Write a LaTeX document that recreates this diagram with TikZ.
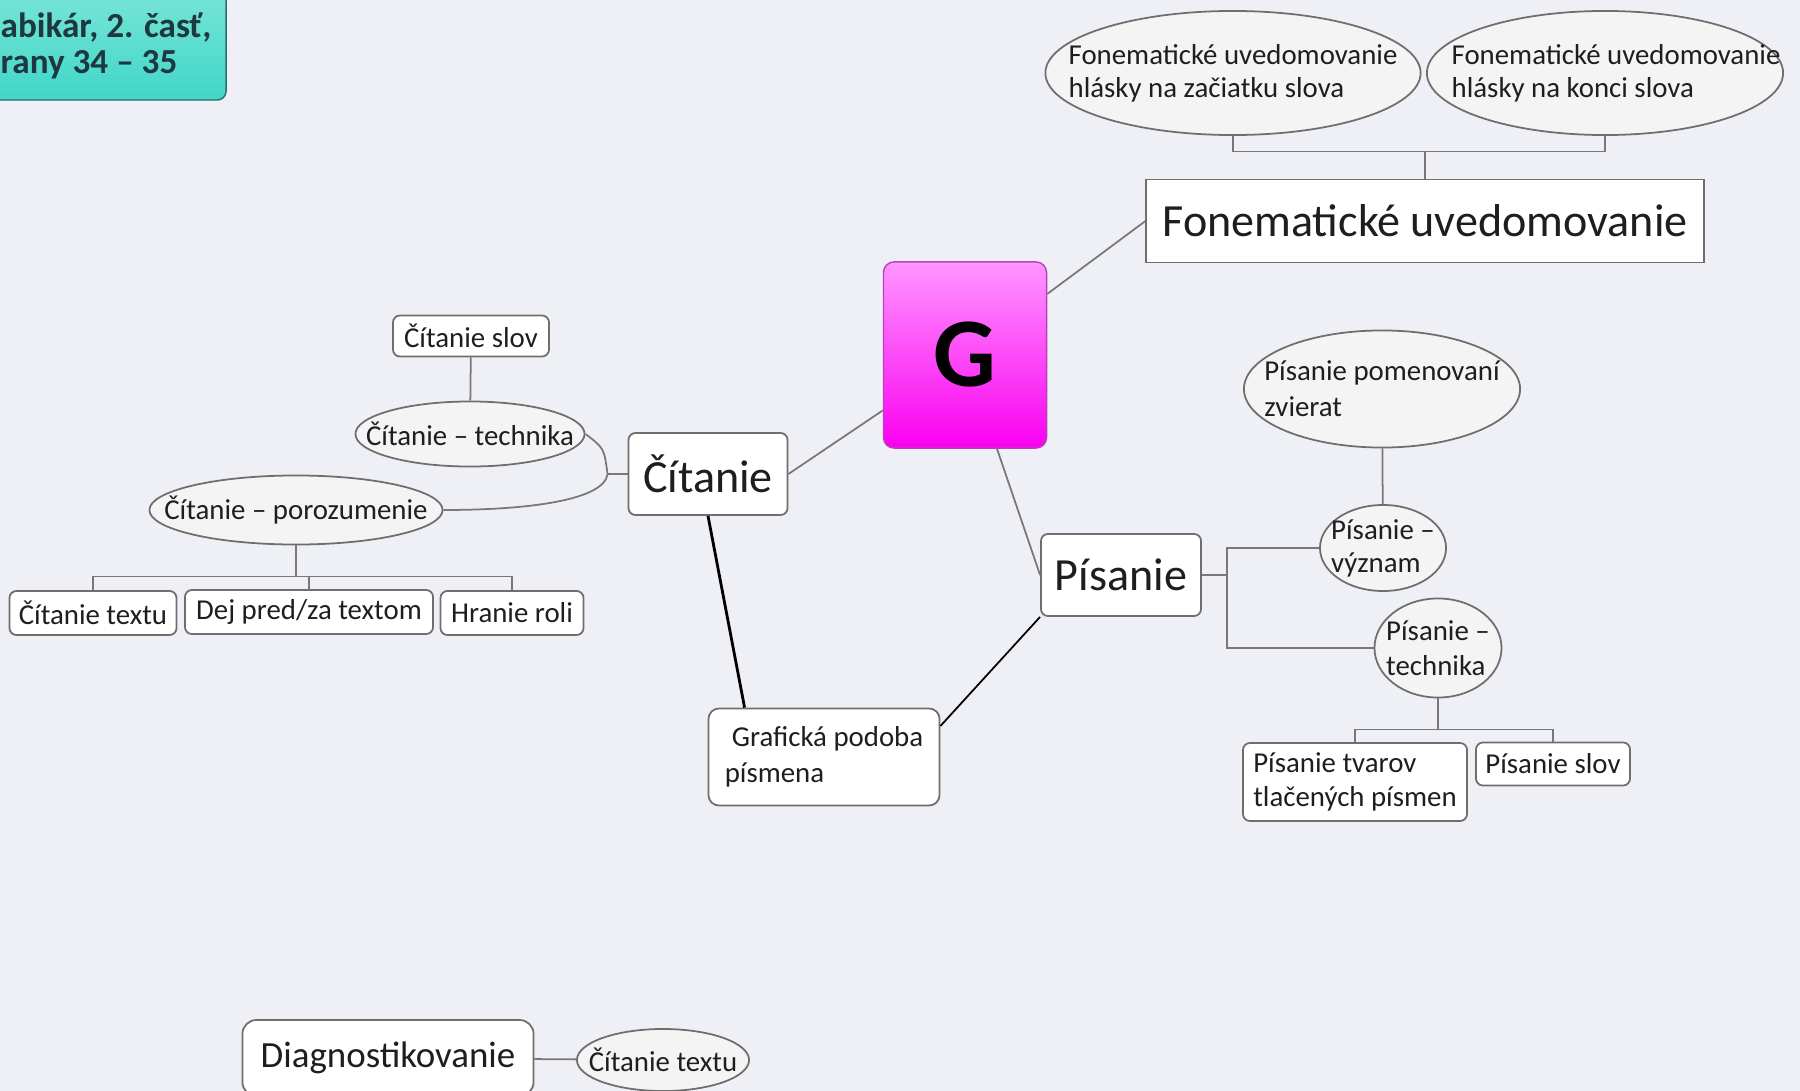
\documentclass[tikz,border=0pt]{standalone}
\usepackage{fontspec}
\setmainfont{Carlito}
\usepackage{xcolor}
\usetikzlibrary{positioning, shapes.geometric, calc}

\definecolor{bg}{RGB}{238,240,246}
\definecolor{boxline}{RGB}{110,110,110}
\definecolor{bubblefill}{RGB}{244,244,244}
\definecolor{linegray}{RGB}{120,120,120}
\definecolor{txt}{RGB}{30,30,30}
\definecolor{srctop}{RGB}{130,232,218}
\definecolor{srcbot}{RGB}{64,214,200}
\definecolor{srcline}{RGB}{40,110,110}
\definecolor{srctext}{RGB}{30,55,65}
\definecolor{gtop}{RGB}{255,150,255}
\definecolor{gbot}{RGB}{250,0,240}
\definecolor{gline}{RGB}{190,60,190}

\begin{document}
\begin{tikzpicture}[x=0.01cm, y=-0.01cm,
  small/.style={font=\fontsize{8.2}{9.4}\selectfont, align=left, text=txt},
  big/.style={font=\fontsize{13.1}{15}\selectfont, text=txt},
  box/.style={draw=boxline, fill=white, rounded corners=2pt, line width=0.5pt, inner sep=0pt, small},
  bubble/.style={ellipse, draw=boxline, fill=bubblefill, line width=0.5pt, inner sep=0pt},
  conn/.style={draw=linegray, line width=0.5pt},
  strong/.style={draw=black, line width=0.8pt}
]
\useasboundingbox (0,0) rectangle (1800,1091);
\fill[bg] (0,0) rectangle (1800,1091);

% source label
\node[draw=srcline, rounded corners=2.5pt, top color=srctop, bottom color=srcbot, minimum width=2.5cm, minimum height=1.3cm] (src) at (101,35) {};
\node[anchor=west, inner sep=0pt, text=srctext, font=\fontsize{10}{12}\selectfont\bfseries] (src1) at (0,28) {abikár, 2. časť,};
\node[anchor=west, inner sep=0pt, text=srctext, font=\fontsize{10}{12}\selectfont\bfseries] (src2) at (0,65) {rany 34 – 35};

% central topic
\node[draw=gline, rounded corners=3pt, top color=gtop, bottom color=gbot, minimum width=1.63cm, minimum height=1.86cm, font=\fontsize{28}{30}\selectfont\bfseries] (G) at (965,355) {G};

% Fonematicke uvedomovanie
\node[box, big, rounded corners=0pt, minimum width=5.57cm, minimum height=0.83cm] (fon) at (1425,221) {Fonematické uvedomovanie};
\node[bubble, minimum width=3.75cm, minimum height=1.24cm, label={[small]center:{Fonematické uvedomovanie\\hlásky na začiatku slova}}] (fonA) at (1233,73) {};
\node[bubble, minimum width=3.56cm, minimum height=1.24cm, label={[small, xshift=0.11cm]center:{Fonematické uvedomovanie\\hlásky na konci slova}}] (fonB) at (1605,73) {};
\coordinate (fonj) at ($(fon.north)+(0,-27)$);
\draw[conn] (fon.north) -- (fonj);
\draw[conn] (fonA.south) |- (fonj) -| (fonB.south);
\draw[conn] (G) -- (fon.west);

% Citanie
\node[box, big, minimum width=1.59cm, minimum height=0.82cm] (cit) at (708,474) {Čítanie};
\draw[conn] (cit.east) -- (G);
\node[box, minimum width=1.56cm, minimum height=0.41cm] (citSlov) at (471,336) {Čítanie slov};
\node[bubble, minimum width=2.29cm, minimum height=0.65cm, label={[small]center:Čítanie – technika}] (citTech) at (470,434) {};
\node[bubble, minimum width=2.93cm, minimum height=0.69cm, label={[small]center:Čítanie – porozumenie}] (citPor) at (296,510) {};
\draw[conn] (citSlov) -- (citTech);
\coordinate (citj) at ($(cit.west)+(-20,0)$);
\draw[conn] (cit.west) -- (citj);
\draw[conn] (citTech.east) .. controls (604,448) .. (citj) .. controls (604,500) and (530,510) .. (citPor.east);

\node[box, minimum width=1.67cm, minimum height=0.44cm] (citText) at (93,613) {Čítanie textu};
\node[box, minimum width=2.48cm, minimum height=0.44cm] (citDej) at (309,612) {Dej pred/za textom};
\node[box, minimum width=1.43cm, minimum height=0.44cm] (citRole) at (512,613) {Hranie roli};
\coordinate (porj) at ($(citPor.south)+(0,31)$);
\draw[conn] (citPor.south) -- (porj);
\draw[conn] (citText.north) |- (porj) -| (citRole.north);
\draw[conn] (citDej.north) -- (citDej.north |- porj);

% Graficka podoba
\node[box, rounded corners=3pt, minimum width=2.31cm, minimum height=0.97cm, font=\fontsize{8.2}{10.2}\selectfont] (graf) at (824,757) {\kern2pt Grafická podoba\\písmena};
\draw[strong] (cit.south) -- ([xshift=0.37cm]graf.north west);

% Pisanie
\node[box, big, minimum width=1.6cm, minimum height=0.82cm] (pis) at (1121,575) {Písanie};
\draw[conn] (G) -- (pis.west);
\draw[black, line width=0.5pt] (pis.south west) -- ([yshift=0.31cm]graf.east);

\node[bubble, minimum width=2.76cm, minimum height=1.17cm, label={[small, font=\fontsize{8.2}{10.2}\selectfont]center:{Písanie pomenovaní\\zvierat}}] (pisPom) at (1382,389) {};
\node[bubble, minimum width=1.26cm, minimum height=0.86cm, label={[small]center:{Písanie –\\význam}}] (pisVyz) at (1383,548) {};
\node[bubble, minimum width=1.27cm, minimum height=0.99cm, label={[small, font=\fontsize{8.2}{10}\selectfont]center:{Písanie –\\technika}}] (pisTech) at (1438,648) {};
\draw[conn] (pisPom) -- (pisVyz);
\coordinate (pisj) at ($(pis.east)+(25,0)$);
\draw[conn] (pis.east) -- (pisj);
\draw[conn] (pisVyz.west) -| (pisj) |- (pisTech.west);

\node[box, minimum width=2.24cm, minimum height=0.78cm, font=\fontsize{8.2}{9.7}\selectfont] (pisTvar) at (1355,782) {Písanie tvarov\\tlačených písmen};
\node[box, minimum width=1.54cm, minimum height=0.43cm] (pisSlov) at (1553,764) {Písanie slov};
\coordinate (ptj) at ($(pisTech.south)+(0,31)$);
\draw[conn] (pisTech.south) -- (ptj);
\draw[conn] (pisTvar.north) |- (ptj) -| (pisSlov.north);

% Diagnostikovanie
\node[box, rounded corners=4pt, minimum width=2.91cm, minimum height=0.76cm, font=\fontsize{10.5}{12}\selectfont] (diag) at (388,1058) {Diagnostikovanie};
\node[bubble, minimum width=1.72cm, minimum height=0.62cm, label={[small]center:Čítanie textu}] (diagText) at (663,1060) {};
\draw[conn] (diag) -- (diagText);
\end{tikzpicture}
\end{document}
